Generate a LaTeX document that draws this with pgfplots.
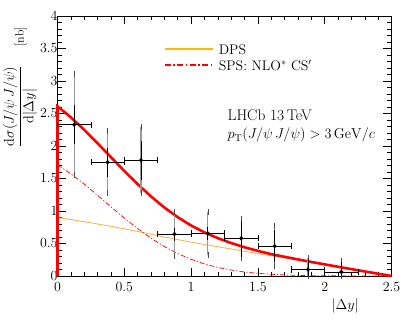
\documentclass[border=0pt]{standalone}
\usepackage{pgfplots}
\pgfplotsset{compat=1.18}
\usepackage{pgfplotstable}

\definecolor{dpsorange}{rgb}{1,0.68,0.25}
\definecolor{legorange}{rgb}{1,0.72,0.0}

\pgfplotstableread{
x y tp tm sp sm
0.125 2.33 0.78 0.78 0.30 0.30
0.375 1.75 0.48 0.48 0.22 0.22
0.625 1.78 0.51 0.51 0.30 0.30
0.875 0.645 0.335 0.335 0.10 0.10
1.125 0.655 0.335 0.335 0.10 0.10
1.375 0.58 0.29 0.31 0.27 0.29
1.625 0.46 0.31 0.31 0.25 0.25
1.875 0.10 0.17 0.10 0.16 0.10
2.125 0.062 0.168 0.062 0.16 0.062
}\datatable

\pgfplotstableread{
x y
0.0 0.90
0.1 0.868
0.2 0.835
0.3 0.80
0.4 0.765
0.5 0.725
0.6 0.685
0.7 0.643
0.8 0.60
0.9 0.56
1.0 0.52
1.1 0.485
1.2 0.45
1.3 0.415
1.4 0.38
1.5 0.345
1.6 0.31
1.7 0.278
1.8 0.245
1.9 0.21
2.0 0.175
2.1 0.14
2.2 0.105
2.3 0.07
2.4 0.035
2.5 0.0
}\dpstable

\pgfplotstableread{
x y
0.0 1.71
0.1 1.573
0.2 1.414
0.3 1.241
0.4 1.064
0.5 0.891
0.6 0.728
0.7 0.581
0.8 0.453
0.9 0.345
1.0 0.257
1.1 0.186
1.2 0.132
1.3 0.0915
1.4 0.0619
1.5 0.0409
1.6 0.0264
1.7 0.0166
1.8 0.0102
1.9 0.006
2.0 0.0035
2.2 0.001
2.5 0.0
}\spstable

\pgfplotstableread{
x y
0.0 0.0
0.0 2.61
0.1 2.441
0.2 2.249
0.3 2.041
0.4 1.829
0.5 1.616
0.6 1.413
0.7 1.224
0.8 1.053
0.9 0.905
1.0 0.777
1.1 0.671
1.2 0.582
1.3 0.507
1.4 0.442
1.5 0.386
1.6 0.336
1.7 0.295
1.8 0.255
1.9 0.216
2.0 0.179
2.1 0.142
2.2 0.106
2.3 0.07
2.4 0.035
2.5 0.0
}\tottable

\begin{document}
\begin{tikzpicture}
\begin{axis}[
  scale only axis, width=334bp, height=260bp,
  xmin=0, xmax=2.5, ymin=0, ymax=4,
  axis line style={line width=0.6bp},
  tick align=inside,
  xtick={0,0.5,1,1.5,2,2.5}, xticklabels={0,0.5,1,1.5,2,2.5},
  ytick={0,0.5,1,1.5,2,2.5,3,3.5,4}, yticklabels={0,0.5,1,1.5,2,2.5,3,3.5,4},
  minor x tick num=4, minor y tick num=4,
  major tick length=8bp, minor tick length=4.5bp,
  tick style={black, line width=0.5bp},
  ticklabel style={font=\fontsize{14}{14}\selectfont},
  xticklabel style={yshift=-3bp},
  yticklabel style={xshift=3.5bp},
  clip=false,
  legend cell align=left,
  legend style={at={(axis cs:0.795,3.59)}, anchor=north west, draw=none, fill=none,
    font=\fontsize{14}{14}\selectfont, row sep=3bp, inner sep=0pt,
    nodes={inner sep=1.5bp, text height=10bp, text depth=0bp}},
]
\addplot[dpsorange, line width=0.8bp,
  legend image code/.code={\draw[draw=legorange, line width=2bp] (0bp,0bp) -- (48bp,0bp); \path (52bp,0bp);}]
  table[x=x,y=y] {\dpstable};
\addlegendentry{DPS}
\addplot[red, line width=0.7bp, dash pattern=on 5bp off 2bp on 1.2bp off 2bp,
  legend image code/.code={\draw[draw=red, line width=2bp, dash pattern=on 6bp off 2.5bp on 1.5bp off 2.5bp] (0bp,0bp) -- (48bp,0bp); \path (52bp,0bp);}]
  table[x=x,y=y] {\spstable};
\addlegendentry{SPS: NLO$^\ast$ CS$'$}
\addplot[red, line width=2.6bp, forget plot] table[x=x,y=y] {\tottable};
% total uncertainties
\addplot[draw=none, mark=none, forget plot,
  error bars/.cd, y dir=both, y explicit,
  error bar style={black!40, line width=1.3bp},
  error mark options={black!70, line width=0.6bp, mark size=3bp}]
  table[x=x,y=y,y error plus=tp,y error minus=tm] {\datatable};
% bin widths
\addplot[draw=none, mark=none, forget plot,
  error bars/.cd, x dir=both, x fixed=0.125, error mark=|,
  error bar style={black, line width=0.7bp},
  error mark options={black, line width=0.6bp, mark size=3bp}]
  table[x=x,y=y] {\datatable};
% stat + points
\addplot[only marks, mark=*, mark size=1.9bp, black, forget plot,
  error bars/.cd, y dir=both, y explicit,
  error bar style={black, line width=0.7bp},
  error mark=none]
  table[x=x,y=y,y error plus=sp,y error minus=sm] {\datatable};

\node[anchor=base west, inner sep=0pt, font=\fontsize{15.5}{15.5}\selectfont] at (axis cs:1.272,2.385) {LHCb 13\,TeV};
\node[anchor=base west, inner sep=0pt, font=\fontsize{14}{14}\selectfont] at (axis cs:1.272,2.108) {$p_{\mathrm{T}}(J/\psi\,J/\psi) > 3\,\mathrm{GeV}/c$};
\node[rotate=90, anchor=east, inner sep=0pt, font=\fontsize{14}{14}\selectfont] at ([xshift=-37.5bp,yshift=-11bp]rel axis cs:0,1)
  {$\displaystyle\frac{\mathrm{d}\sigma(J/\psi\,J/\psi)}{\mathrm{d}|\Delta y|}$\hspace{19bp}{\fontsize{12}{12}\selectfont[nb]}};
\node[anchor=base east, inner sep=0pt, font=\fontsize{14}{14}\selectfont] at ([xshift=-32.5bp,yshift=-33bp]rel axis cs:1,0) {$|\Delta y|$};
\end{axis}
\pgfresetboundingbox
\useasboundingbox ([shift={(-57.5bp,-53bp)}]current axis.south west) rectangle ([shift={(20.5bp,16bp)}]current axis.north east);
\end{tikzpicture}
\end{document}
